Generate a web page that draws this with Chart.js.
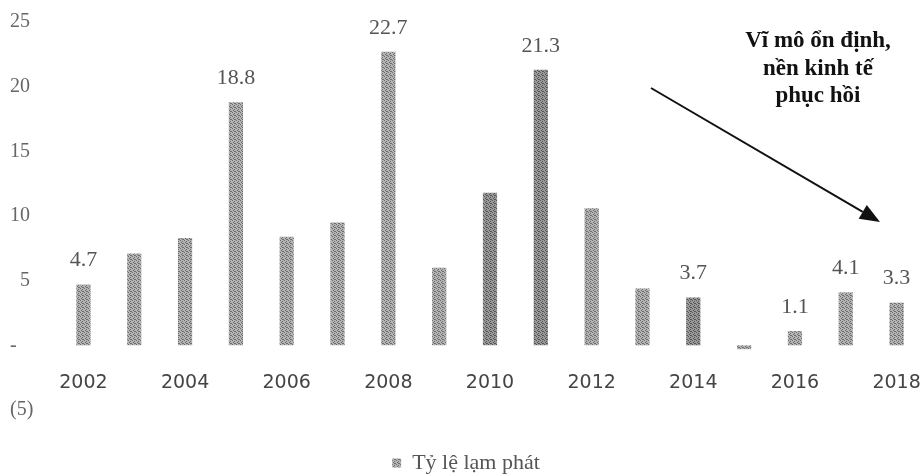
<!doctype html>
<html lang="vi">
<head>
<meta charset="UTF-8">
<title>Tỷ lệ lạm phát</title>
<style>
    * { margin: 0; padding: 0; box-sizing: border-box; }
    body { background: #fff; }
    #wrap { width: 923px; height: 476px; }
</style>
</head>
<body>
<div id="wrap"><canvas id="myChart"></canvas></div>

<script src="https://cdn.jsdelivr.net/npm/chart.js"></script>
<script>
    const years = ['2002', '2003', '2004', '2005', '2006', '2007', '2008', '2009', '2010',
                   '2011', '2012', '2013', '2014', '2015', '2016', '2017', '2018'];
    const inflation = [4.7, 7.1, 8.3, 18.8, 8.4, 9.5, 22.7, 6.0, 11.8,
                       21.3, 10.6, 4.4, 3.7, -0.3, 1.1, 4.1, 3.3];
    // only some bars carry a value label in the picture
    const shownLabels = ['4.7', null, null, '18.8', null, null, '22.7', null, null,
                         '21.3', null, null, '3.7', null, '1.1', '4.1', '3.3'];

    // stippled grey like the scan
    function makePattern(light, dark) {
        const c = document.createElement('canvas');
        c.width = 4; c.height = 4;
        const g = c.getContext('2d');
        g.fillStyle = light;
        g.fillRect(0, 0, 4, 4);
        g.fillStyle = dark;
        g.fillRect(0, 0, 1, 1); g.fillRect(2, 1, 1, 1);
        g.fillRect(1, 2, 1, 1); g.fillRect(3, 3, 1, 1);
        g.fillRect(2, 3, 1, 1);
        return g.createPattern(c, 'repeat');
    }
    const fillLight = makePattern('#b4b4b4', '#6e6e6e');
    const fillDark = makePattern('#9a9a9a', '#555555');

    const barLabelPlugin = {
        id: 'barLabels',
        afterDatasetsDraw(chart) {
            const ctx = chart.ctx;
            const meta = chart.getDatasetMeta(0);
            ctx.save();
            ctx.font = '22px "Liberation Serif"';
            ctx.fillStyle = '#555';
            ctx.textAlign = 'center';
            ctx.textBaseline = 'middle';
            meta.data.forEach((bar, i) => {
                if (shownLabels[i]) ctx.fillText(shownLabels[i], bar.x, bar.y - 24);
            });
            ctx.restore();
        }
    };

    const notePlugin = {
        id: 'note',
        afterDraw(chart) {
            const ctx = chart.ctx;
            ctx.save();
            ctx.font = 'bold 23px "Liberation Serif"';
            ctx.fillStyle = '#111';
            ctx.textAlign = 'center';
            ctx.textBaseline = 'middle';
            ctx.fillText('Vĩ mô ổn định,', 818, 41);
            ctx.fillText('nền kinh tế', 818, 69);
            ctx.fillText('phục hồi', 818, 96);

            // arrow
            const x1 = 651, y1 = 88, x2 = 880, y2 = 222;
            const ang = Math.atan2(y2 - y1, x2 - x1);
            const hl = 20, hw = 8;
            const bx = x2 - hl * Math.cos(ang), by = y2 - hl * Math.sin(ang);
            ctx.strokeStyle = '#111';
            ctx.lineWidth = 2;
            ctx.beginPath();
            ctx.moveTo(x1, y1);
            ctx.lineTo(bx, by);
            ctx.stroke();
            ctx.beginPath();
            ctx.moveTo(x2, y2);
            ctx.lineTo(bx + hw * Math.sin(ang), by - hw * Math.cos(ang));
            ctx.lineTo(bx - hw * Math.sin(ang), by + hw * Math.cos(ang));
            ctx.closePath();
            ctx.fillStyle = '#111';
            ctx.fill();
            ctx.restore();
        }
    };

    const data = {
        labels: years,
        datasets: [{
            label: 'Tỷ lệ lạm phát',
            data: inflation,
            backgroundColor: inflation.map((v, i) => (i === 8 || i === 9 || i === 12) ? fillDark : fillLight),
            borderWidth: 0,
            categoryPercentage: 1,
            barPercentage: 0.28
        }]
    };

    const config = {
        type: 'bar',
        data: data,
        options: {
            responsive: true,
            maintainAspectRatio: false,
            animation: false,
            layout: { padding: { top: 0, right: 1, bottom: -8, left: 10 } },
            scales: {
                x: {
                    position: { y: 0 },
                    grid: { display: false, drawTicks: false },
                    border: { display: false },
                    ticks: {
                        autoSkip: false,
                        maxRotation: 0,
                        padding: 26,
                        color: '#444',
                        font: { family: 'DejaVu Sans', size: 19 },
                        callback: (v, i) => i % 2 === 0 ? years[i] : ''
                    },
                    afterFit(scale) {
                        scale.height = 0;
                        scale.paddingLeft = 0;
                        scale.paddingRight = 0;
                    }
                },
                y: {
                    min: -5,
                    max: 25,
                    grid: { display: false, drawTicks: false },
                    border: { display: false },
                    ticks: {
                        stepSize: 5,
                        padding: 0,
                        crossAlign: 'far',
                        color: '#666',
                        font: { family: 'Liberation Serif', size: 20 },
                        callback: v => v === 0 ? '-' : v < 0 ? '(' + (-v) + ')' : (v < 10 ? '  ' + v : '' + v)
                    },
                    afterFit(scale) {
                        scale.width = 48;
                        // plot spans y 22..410 like the picture
                        scale.paddingTop = 22;
                        scale.paddingBottom = 66;
                    }
                }
            },
            plugins: {
                legend: {
                    position: 'bottom',
                    labels: {
                        boxWidth: 9,
                        boxHeight: 9,
                        padding: 42,
                        color: '#555',
                        font: { family: 'Liberation Serif', size: 22 }
                    }
                },
                tooltip: { enabled: false }
            }
        },
        plugins: [barLabelPlugin, notePlugin]
    };

    const myChart = new Chart(document.getElementById('myChart'), config);
</script>
</body>
</html>
